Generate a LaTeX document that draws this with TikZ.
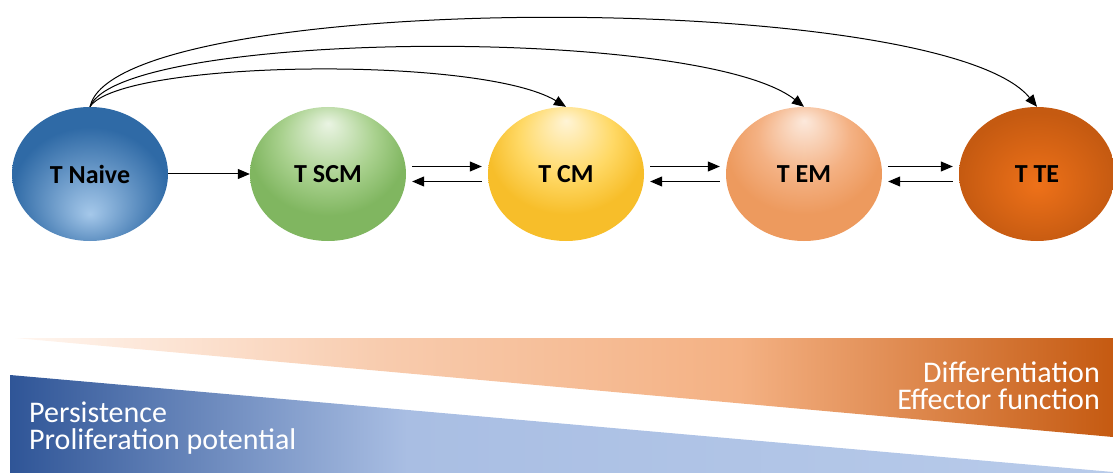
\documentclass[tikz,border=0pt]{standalone}
\usepackage{fontspec}
\setmainfont{Carlito}
\usetikzlibrary{arrows.meta}
\usetikzlibrary{shapes.geometric}
\definecolor{naiveLight}{HTML}{A5C8EA}
\definecolor{naiveDark}{HTML}{2F6AA6}
\definecolor{scmLight}{HTML}{EAF4E3}
\definecolor{scmMid}{HTML}{A9D18E}
\definecolor{scmDark}{HTML}{80B660}
\definecolor{cmLight}{HTML}{FFF4D6}
\definecolor{cmMid}{HTML}{FFD966}
\definecolor{cmDark}{HTML}{F7BE2A}
\definecolor{emLight}{HTML}{FCE9DC}
\definecolor{emMid}{HTML}{F4B183}
\definecolor{emDark}{HTML}{ED9A5E}
\definecolor{teLight}{HTML}{EE7119}
\definecolor{teDark}{HTML}{C55A11}
\definecolor{persDark}{HTML}{2F5597}
\definecolor{persMid}{HTML}{A9BEE3}
\definecolor{persLight}{HTML}{B8CBEA}
\definecolor{diffLight}{HTML}{FFF6F0}
\definecolor{diffMid}{HTML}{F8CBAD}
\definecolor{diffPeach}{HTML}{F4B183}
\definecolor{diffDark}{HTML}{C55A11}
% the shaded path covers the middle half of each shading (25bp..75bp)
\pgfdeclareradialshading{naiveshade}{\pgfpoint{0bp}{-15bp}}{color(0bp)=(naiveLight); color(25bp)=(naiveDark); color(50bp)=(naiveDark)}
\pgfdeclareradialshading{scmshade}{\pgfpoint{0bp}{19bp}}{color(0bp)=(scmLight); color(15bp)=(scmMid); color(25bp)=(scmDark); color(50bp)=(scmDark)}
\pgfdeclareradialshading{cmshade}{\pgfpoint{0bp}{20bp}}{color(0bp)=(cmLight); color(15bp)=(cmMid); color(25bp)=(cmDark); color(50bp)=(cmDark)}
\pgfdeclareradialshading{emshade}{\pgfpoint{0bp}{20bp}}{color(0bp)=(emLight); color(15bp)=(emMid); color(25bp)=(emDark); color(50bp)=(emDark)}
\pgfdeclareradialshading{teshade}{\pgfpoint{0bp}{-4bp}}{color(0bp)=(teLight); color(25bp)=(teDark); color(50bp)=(teDark)}
\pgfdeclarehorizontalshading{persistshade}{100bp}{color(0bp)=(persDark); color(25bp)=(persDark); color(43bp)=(persMid); color(75bp)=(persLight); color(100bp)=(persLight)}
\pgfdeclarehorizontalshading{diffshade}{100bp}{color(0bp)=(diffLight); color(25bp)=(diffLight); color(42bp)=(diffMid); color(58bp)=(diffPeach); color(75bp)=(diffDark); color(100bp)=(diffDark)}
\tikzset{cell/.style = {ellipse, inner sep = 0, minimum width = 156pt, minimum height = 134pt, font = \bfseries\fontsize{26}{30}\selectfont},
    flow/.style = {-{Triangle[length=12pt,width=10pt]}, line width = 1pt},
    swap/.style = {flow, shorten < = 6pt, shorten > = 6pt},
    banner/.style = {inner sep = 0, white, font = \fontsize{30}{27}\selectfont}}

\begin{document}
\begin{tikzpicture}[x=1pt,y=-1pt]
        \useasboundingbox (0,0) rectangle (1113,473);
        \shade [shading=diffshade] (15,338) -- (1113,338) -- (1113,437) -- cycle;
        \shade [shading=persistshade] (10,375) -- (1113,472) -- (1113,473) -- (10,473) -- cycle;
        \node[cell, shading=naiveshade] (naive) at (90,174) {T Naive};
        \node[cell, shading=scmshade] (scm) at (328,174) {T SCM};
        \node[cell, shading=cmshade] (cm) at (566,174) {T CM};
        \node[cell, shading=emshade] (em) at (804,174) {T EM};
        \node[cell, shading=teshade] (te) at (1037,174) {T TE};
        \draw[flow] (naive) -- (scm);
        \draw[swap] ([yshift=7.5pt]scm.east) -- ([yshift=7.5pt]cm.west);
        \draw[swap] ([yshift=-7.5pt]cm.west) -- ([yshift=-7.5pt]scm.east);
        \draw[swap] ([yshift=7.5pt]cm.east) -- ([yshift=7.5pt]em.west);
        \draw[swap] ([yshift=-7.5pt]em.west) -- ([yshift=-7.5pt]cm.east);
        \draw[swap] ([yshift=7.5pt]em.east) -- ([yshift=7.5pt]te.west);
        \draw[swap] ([yshift=-7.5pt]te.west) -- ([yshift=-7.5pt]em.east);
        \draw[flow] (naive.north) .. controls (120,60) and (480,55) .. (cm.north);
        \draw[flow] (naive.north) .. controls (120,30) and (700,25) .. (em.north);
        \draw[flow] (naive.north) .. controls (115,-10) and (940,-12) .. (te.north);
        \node[banner, anchor=base east] (diff) at (1100,382) {Differentiation};
        \node[banner, anchor=base east] (effector) at (1100,409) {Effector function};
        \node[banner, anchor=base west] (persist) at (29,422) {Persistence};
        \node[banner, anchor=base west] (prolif) at (29,449) {Proliferation potential};
    \end{tikzpicture}
\end{document}
